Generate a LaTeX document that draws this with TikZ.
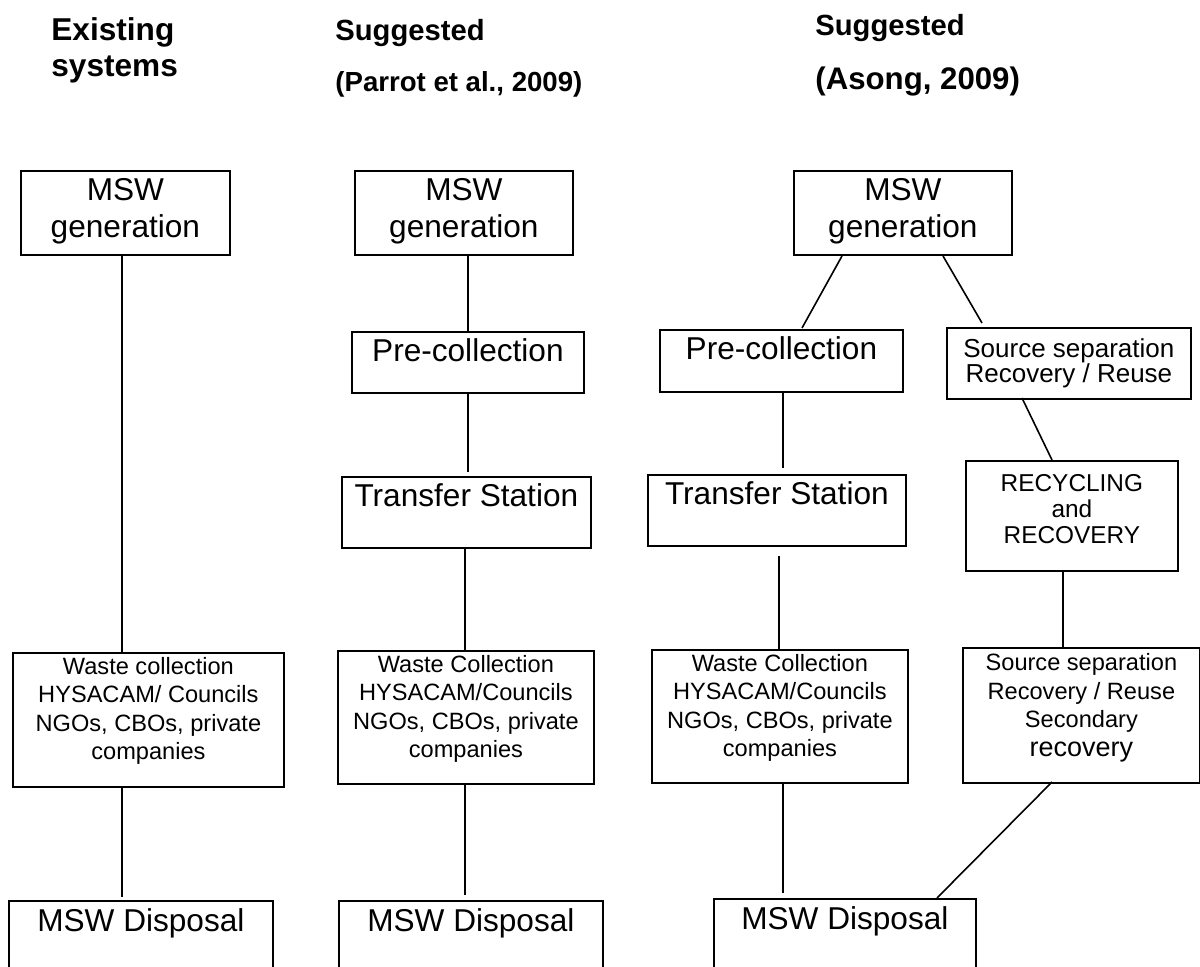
\documentclass[tikz,border=0pt]{standalone}
\usepackage{fontspec}
\setmainfont{Liberation Sans}
% width, height, top padding, content
\newcommand\bxtext[4]{\parbox[t][#2][t]{#1}{\centering\vspace*{#3}#4}}
\begin{document}
\begin{tikzpicture}[x=0.5pt,y=-0.5pt,
  box/.style={draw,line width=0.9pt,inner sep=0pt,anchor=north west},
  big/.style={font=\fontsize{15.8}{18.5}\selectfont},
  small/.style={font=\fontsize{11.8}{14.2}\selectfont},
  mid/.style={font=\fontsize{13}{12.5}\selectfont},
  rec/.style={font=\fontsize{12.2}{13}\selectfont},
  ttl/.style={font=\bfseries\fontsize{14.6}{16}\selectfont,anchor=west,inner sep=0pt},
  conn/.style={line width=0.8pt}]
\useasboundingbox (0,0) rectangle (1200,967);
\clip (0,0) rectangle (1200,967);
% titles
\node[ttl,font=\bfseries\fontsize{15.8}{18}\selectfont,align=left] (t1) at (51,50) {Existing\\systems};
\node[ttl] (t2a) at (335,33) {Suggested};
\node[ttl,font=\bfseries\fontsize{13.8}{16}\selectfont] (t2b) at (335,84) {(Parrot et al., 2009)};
\node[ttl] (t3a) at (815,28) {Suggested};
\node[ttl,font=\bfseries\fontsize{15.6}{16}\selectfont] (t3b) at (815,82) {(Asong, 2009)};
% column 1
\node[box,big] (g1) at (20,170) {\bxtext{104.5pt}{42pt}{4pt}{MSW\\generation}};
\node[box,small] (w1) at (12,652) {\bxtext{135.5pt}{67pt}{2.2pt}{Waste collection\\HYSACAM/ Councils\\NGOs, CBOs, private\\companies}};
\node[box,big] (d1) at (8,900) {\bxtext{132pt}{45pt}{4pt}{MSW Disposal}};
% column 2
\node[box,big] (g2) at (354,170) {\bxtext{109pt}{42pt}{4pt}{MSW\\generation}};
\node[box,big] (p2) at (351,331) {\bxtext{116pt}{30.5pt}{3.6pt}{Pre-collection}};
\node[box,big] (tr2) at (341,476) {\bxtext{124.5pt}{35.5pt}{3.2pt}{Transfer Station}};
\node[box,small] (w2) at (337,650) {\bxtext{128pt}{66.5pt}{2.2pt}{Waste Collection\\HYSACAM/Councils\\NGOs, CBOs, private\\companies}};
\node[box,big] (d2) at (338,900) {\bxtext{132pt}{45pt}{4pt}{MSW Disposal}};
% column 3
\node[box,big] (g3) at (793,170) {\bxtext{109pt}{42pt}{4pt}{MSW\\generation}};
\node[box,big] (p3) at (659,329) {\bxtext{121.5pt}{31pt}{3.6pt}{Pre-collection}};
\node[box,mid] (s1) at (946,327) {\bxtext{122pt}{35.5pt}{5.3pt}{Source separation\\Recovery / Reuse}};
\node[box,big] (tr3) at (647,474) {\bxtext{129pt}{35.5pt}{3.2pt}{Transfer Station}};
\node[box,rec] (r3) at (965,460) {\bxtext{106pt}{55pt}{7pt}{RECYCLING\\and\\RECOVERY}};
\node[box,small] (w3) at (651,649) {\bxtext{128pt}{66.5pt}{2.2pt}{Waste Collection\\HYSACAM/Councils\\NGOs, CBOs, private\\companies}};
\node[box,small] (s2) at (962,647) {\bxtext{118.5pt}{67.5pt}{3pt}{Source separation\\Recovery / Reuse\\Secondary\\{\fontsize{13.5}{14}\selectfont recovery}}};
\node[box,big] (d3) at (713,898) {\bxtext{131pt}{45pt}{4pt}{MSW Disposal}};
% free ends
\coordinate (c1a) at (122,897);
\coordinate (c2a) at (468,472);
\coordinate (c2b) at (465,895);
\coordinate (c3a) at (842,256);
\coordinate (c3b) at (802,328);
\coordinate (c3c) at (943,256);
\coordinate (c3d) at (982,323);
\coordinate (c3e) at (783,468);
\coordinate (c3f) at (779,556);
\coordinate (c3g) at (1022,398);
\coordinate (c3h) at (1052,460);
\coordinate (c3i) at (1052,782);
\coordinate (c3j) at (937,898);
\coordinate (c3k) at (783,893);
\coordinate (c3l) at (1063,570);
% connectors
\draw[conn] (g1.south -| c1a) -- (w1.north -| c1a);
\draw[conn] (w1.south -| c1a) -- (c1a);
\draw[conn] (g2.south -| c2a) -- (p2.north -| c2a);
\draw[conn] (p2.south -| c2a) -- (c2a);
\draw[conn] (tr2.south -| c2b) -- (w2.north -| c2b);
\draw[conn] (w2.south -| c2b) -- (c2b);
\draw[conn] (c3a) -- (c3b);
\draw[conn] (c3c) -- (c3d);
\draw[conn] (p3.south -| c3e) -- (c3e);
\draw[conn] (c3f) -- (w3.north -| c3f);
\draw[conn] (c3g) -- (c3h);
\draw[conn] (r3.south -| c3l) -- (s2.north -| c3l);
\draw[conn] (c3i) -- (c3j);
\draw[conn] (w3.south -| c3k) -- (c3k);
\end{tikzpicture}
\end{document}
